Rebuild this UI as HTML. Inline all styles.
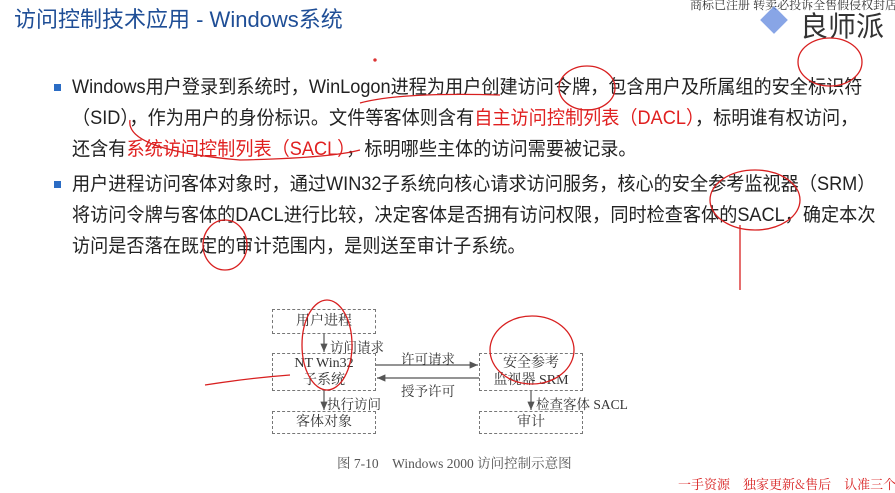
<!DOCTYPE html>
<html><head><meta charset="utf-8"><style>
body{margin:0;width:895px;height:493px;background:#fff;position:relative;overflow:hidden;font-family:"Liberation Sans","Noto Sans CJK SC",sans-serif}
.t{position:absolute;white-space:nowrap;font-size:19px;color:#222;line-height:24px;transform:scaleX(0.955);transform-origin:0 0}
.r{color:#e02020}
.b{position:absolute;width:7px;height:7px;background:#2b6cc4}
.box{position:absolute;border:1.5px dashed #777;background:#fff;box-sizing:border-box;font-family:"Liberation Serif","Noto Serif CJK SC",serif;font-size:14px;color:#333;text-align:center;display:flex;align-items:center;justify-content:center;line-height:17px}
.lb{position:absolute;font-family:"Liberation Serif","Noto Serif CJK SC",serif;font-size:13.5px;color:#333;white-space:nowrap}
</style></head><body>
<div class="t" style="left:14px;top:6px;font-size:22px;color:#1f4e96;line-height:28px;transform:none">访问控制技术应用 - Windows系统</div>
<div style="position:absolute;left:690px;top:-4px;font-family:'Noto Serif CJK SC',serif;font-size:12px;color:#333;white-space:nowrap">商标已注册 转卖必投诉全售假侵权封店</div>
<div style="position:absolute;left:760px;top:6px;width:28px;height:28px;background:#6a8fe0;transform:rotate(45deg) scale(.7);opacity:.8"></div>
<div class="t" style="left:800px;top:10px;font-size:28px;line-height:34px;color:#333;transform:none">良师派</div>
<div class="b" style="left:54px;top:84px"></div>
<div class="t" style="left:72px;top:76px">Windows用户登录到系统时，WinLogon进程为用户创建访问令牌，包含用户及所属组的安全标识符</div>
<div class="t" style="left:72px;top:107px">（SID），作为用户的身份标识。文件等客体则含有<span class="r">自主访问控制列表（DACL）</span>，标明谁有权访问，</div>
<div class="t" style="left:72px;top:138px">还含有<span class="r">系统访问控制列表（SACL）</span>，标明哪些主体的访问需要被记录。</div>
<div class="b" style="left:54px;top:181px"></div>
<div class="t" style="left:72px;top:173px">用户进程访问客体对象时，通过WIN32子系统向核心请求访问服务，核心的安全参考监视器（SRM）</div>
<div class="t" style="left:72px;top:204px">将访问令牌与客体的DACL进行比较，决定客体是否拥有访问权限，同时检查客体的SACL，确定本次</div>
<div class="t" style="left:72px;top:235px">访问是否落在既定的审计范围内，是则送至审计子系统。</div>

<svg style="position:absolute;left:0;top:0" width="895" height="493">
<defs><marker id="a" markerWidth="8" markerHeight="8" refX="7" refY="4" orient="auto"><path d="M0,1 L7,4 L0,7z" fill="#555"/></marker></defs>
<g stroke="#555" stroke-width="1.2" fill="none">
<line x1="324" y1="334" x2="324" y2="352" marker-end="url(#a)"/>
<line x1="324" y1="391" x2="324" y2="410" marker-end="url(#a)"/>
<line x1="531" y1="391" x2="531" y2="410" marker-end="url(#a)"/>
<line x1="376" y1="365" x2="478" y2="365" marker-end="url(#a)"/>
<line x1="479" y1="378" x2="377" y2="378" marker-end="url(#a)"/>
</g>
</svg>
<div class="box" style="left:272px;top:309px;width:104px;height:25px">用户进程</div>
<div class="box" style="left:272px;top:353px;width:104px;height:38px">NT Win32<br>子系统</div>
<div class="box" style="left:272px;top:411px;width:104px;height:23px">客体对象</div>
<div class="box" style="left:479px;top:353px;width:104px;height:38px">安全参考<br>监视器 SRM</div>
<div class="box" style="left:479px;top:411px;width:104px;height:23px">审计</div>
<div class="lb" style="left:330px;top:336px">访问请求</div>
<div class="lb" style="left:401px;top:348px">许可请求</div>
<div class="lb" style="left:401px;top:380px">授予许可</div>
<div class="lb" style="left:327px;top:393px">执行访问</div>
<div class="lb" style="left:536px;top:393px">检查客体 SACL</div>
<div class="lb" style="left:337px;top:452px;color:#555">图 7-10　Windows 2000 访问控制示意图</div>
<svg style="position:absolute;left:0;top:0" width="895" height="493">
<g stroke="#d82020" stroke-width="1.3" fill="none">
<ellipse cx="587" cy="88" rx="28" ry="22"/>
<ellipse cx="830" cy="62" rx="32" ry="24"/>
<ellipse cx="755" cy="200" rx="45" ry="30"/>
<ellipse cx="375" cy="60" rx="1" ry="1"/>
<ellipse cx="327" cy="345" rx="25" ry="45"/>
<ellipse cx="532" cy="350" rx="42" ry="34"/>
<ellipse cx="225" cy="245" rx="22" ry="25"/>
<path d="M360 103 Q400 92 500 95"/>
<path d="M740 290 L740 225"/>
<path d="M205 385 Q250 378 290 375"/>
<path d="M130 120 Q125 150 240 160 Q330 158 360 150"/>
</g>
</svg>
<div style="position:absolute;left:678px;top:474px;font-family:'Noto Serif CJK SC',serif;font-size:13px;color:#d82020;white-space:nowrap">一手资源　独家更新&amp;售后　认准三个淘宝</div>
</body></html>
